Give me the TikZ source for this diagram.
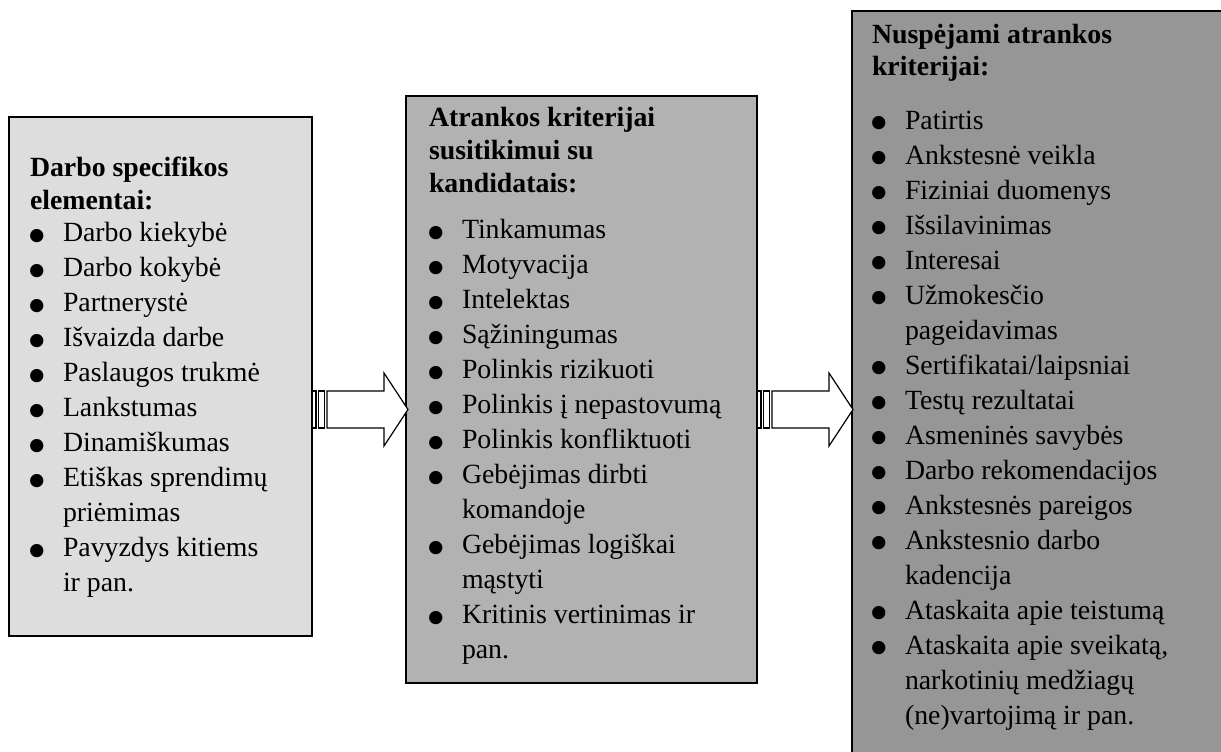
\documentclass[tikz,border=0pt]{standalone}
\usepackage{fontspec}
\setmainfont{Liberation Serif}
\usepackage{graphicx}

% one drawing unit = one pixel of the 1221 x 751 canvas
\newlength\pxu
\setlength\pxu{0.4317pt}

\definecolor{boxA}{gray}{0.867}
\definecolor{boxB}{gray}{0.698}
\definecolor{boxC}{gray}{0.588}

% list bullet and continuation indent
\newcommand\bl{\makebox[33\pxu][l]{\hspace{-2.5\pxu}\smash{\fontsize{24pt}{24pt}\selectfont\raisebox{-5.6pt}{•}}}}
\newcommand\cont{\hspace*{33\pxu}}

% striped block arrow, tail at the given coordinate, pointing right
\newcommand\stripedarrow[1]{%
  \draw[arrowline,shift={(#1)}] (0,-18.5) rectangle (4,18.5);
  \draw[arrowline,shift={(#1)}] (6.5,-18.5) rectangle (12.5,18.5);
  \draw[arrowline,shift={(#1)}] (15,-18.5) -- (72,-18.5) -- (72,-36.5) -- (96,0)
        -- (72,36.5) -- (72,18.5) -- (15,18.5) -- cycle;
}

\begin{document}
\begin{tikzpicture}[x=\pxu,y=-\pxu,
  box/.style={draw=black,line width=2.5\pxu,inner sep=0pt,outer sep=0pt,anchor=north west},
  txt/.style={inner sep=0pt,outer sep=0pt,anchor=base west,align=left},
  arrowline/.style={draw=black,fill=white,line width=1.2\pxu,line join=miter}]
\useasboundingbox (0,0) rectangle (1221,751);

% the three boxes
\node[box,fill=boxA,minimum width=303\pxu,minimum height=519\pxu] (L) at (9,117) {};
\node[box,fill=boxB,minimum width=351\pxu,minimum height=587\pxu] (M) at (406,96) {};
\node[box,fill=boxC,minimum width=420\pxu,minimum height=800\pxu] (R) at (852,11) {};

% texts
\node[txt] (Lt) at (30,176) {\parbox[t]{280\pxu}{\fontsize{12pt}{35\pxu}\selectfont
\textbf{Darbo specifikos}\\[-2\pxu]
\textbf{elementai:}\\[-2.5\pxu]
\bl Darbo kiekybė\\
\bl Darbo kokybė\\
\bl Partnerystė\\
\bl Išvaizda darbe\\
\bl Paslaugos trukmė\\
\bl Lankstumas\\
\bl Dinamiškumas\\
\bl Etiškas sprendimų\\
\cont priėmimas\\
\bl Pavyzdys kitiems\\
\cont ir pan.}};

\node[txt] (Mt) at (429,126.5) {\parbox[t]{320\pxu}{\fontsize{12pt}{35\pxu}\selectfont
\textbf{Atrankos kriterijai}\\[-2\pxu]
\textbf{susitikimui su}\\[-2\pxu]
\textbf{kandidatais:}\\[11\pxu]
\bl Tinkamumas\\
\bl Motyvacija\\
\bl Intelektas\\
\bl Sąžiningumas\\
\bl Polinkis rizikuoti\\
\bl Polinkis į nepastovumą\\
\bl Polinkis konfliktuoti\\
\bl Gebėjimas dirbti\\
\cont komandoje\\
\bl Gebėjimas logiškai\\
\cont mąstyti\\
\bl Kritinis vertinimas ir\\
\cont pan.}};

\node[txt] (Rt) at (872,43) {\parbox[t]{340\pxu}{\fontsize{12pt}{35\pxu}\selectfont
\textbf{Nuspėjami atrankos}\\[-3\pxu]
\textbf{kriterijai:}\\[19\pxu]
\bl Patirtis\\
\bl Ankstesnė veikla\\
\bl Fiziniai duomenys\\
\bl Išsilavinimas\\
\bl Interesai\\
\bl Užmokesčio\\
\cont pageidavimas\\
\bl Sertifikatai/laipsniai\\
\bl Testų rezultatai\\
\bl Asmeninės savybės\\
\bl Darbo rekomendacijos\\
\bl Ankstesnės pareigos\\
\bl Ankstesnio darbo\\
\cont kadencija\\
\bl Ataskaita apie teistumą\\
\bl Ataskaita apie sveikatą,\\
\cont narkotinių medžiagų\\
\cont (ne)vartojimą ir pan.}};

% arrows between the boxes
\coordinate (a1) at (L.east |- 0,409.5);
\coordinate (a2) at (M.east |- 0,409.5);
\stripedarrow{a1}
\stripedarrow{a2}
\end{tikzpicture}
\end{document}
